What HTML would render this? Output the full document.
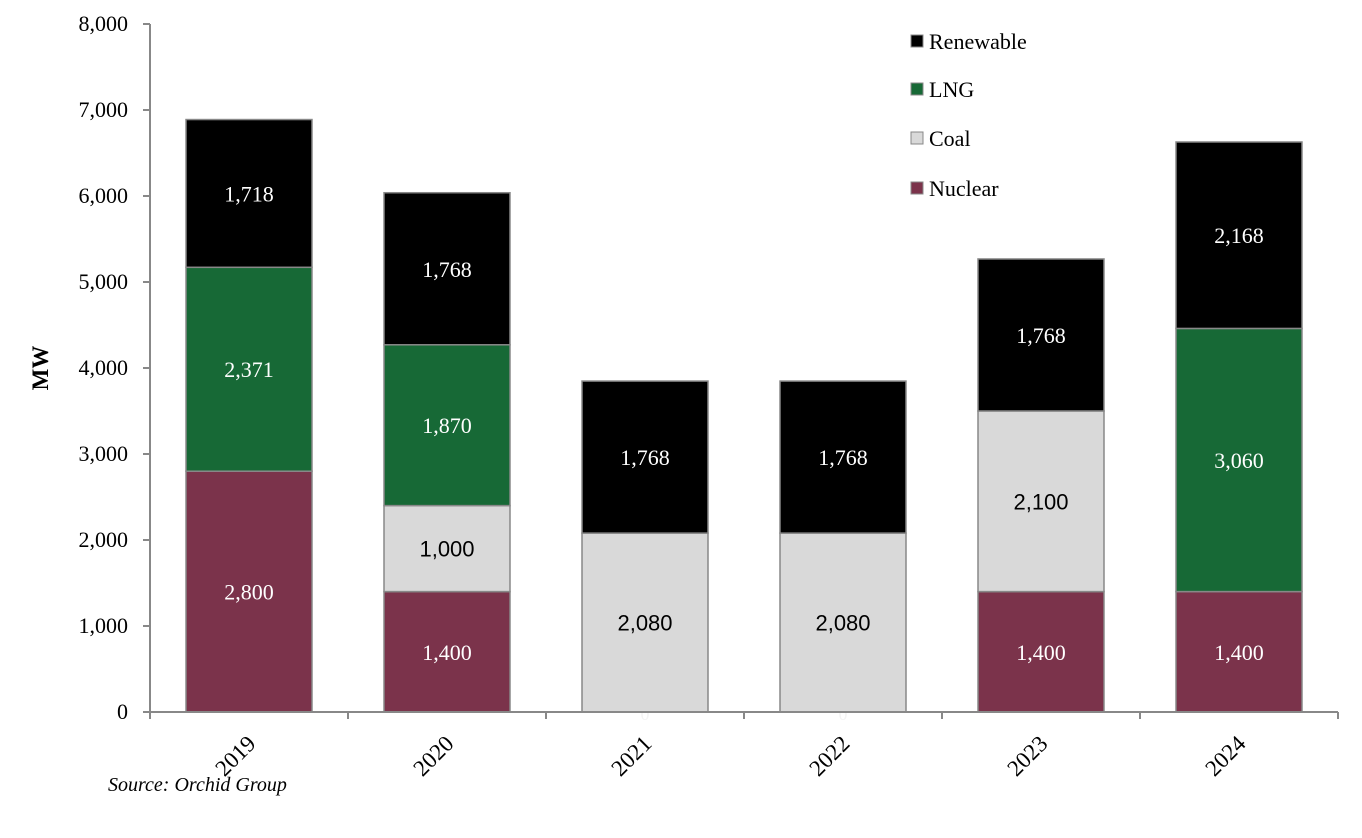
<!DOCTYPE html>
<html><head><meta charset="utf-8"><style>
body{margin:0;background:#fff;}
svg{display:block;}
</style></head><body>
<svg id="chart" width="1362" height="838" xmlns="http://www.w3.org/2000/svg" font-family="'Liberation Serif', serif"></svg>
<script>
const categories = ["2019","2020","2021","2022","2023","2024"];
const nuclear = [2800,1400,0,0,1400,1400];
const coal = [0,1000,2080,2080,2100,0];
const lng = [2371,1870,0,0,0,3060];
const renewable = [1718,1768,1768,1768,1768,2168];
const yTicks = [0,1000,2000,3000,4000,5000,6000,7000,8000];
const yTickLabels = ["0","1,000","2,000","3,000","4,000","5,000","6,000","7,000","8,000"];

const NS="http://www.w3.org/2000/svg";
const svg=document.getElementById('chart');
const x0=150, x1=1338, yBase=712, yTop=24, yMax=8000;
const bw=(x1-x0)/categories.length, barW=126;
const y=v=>yBase-(v/yMax)*(yBase-yTop);
const xc=i=>x0+bw*(i+0.5);
function mk(tag,attrs,parent){const e=document.createElementNS(NS,tag);for(const k in attrs)e.setAttribute(k,attrs[k]);(parent||svg).appendChild(e);return e;}
const fmt=v=>v.toLocaleString('en-US');

// y axis
const yAxis=mk('g',{});


mk('line',{x1:x0,y1:yTop,x2:x0,y2:yBase,stroke:'#888','stroke-width':2},yAxis);
yTicks.forEach((t,i)=>{
  mk('line',{x1:x0-7,y1:y(t),x2:x0,y2:y(t),stroke:'#888','stroke-width':2},yAxis);
  const tx=mk('text',{x:x0-22,y:y(t)+7,'text-anchor':'end','font-size':22,fill:'#000'},yAxis);
  
  
  tx.textContent=yTickLabels[i];
});
const yt=mk('text',{x:48,y:368,'text-anchor':'middle','font-size':23,'font-weight':'bold',transform:'rotate(-90 48 368)'});


yt.textContent='MW';

// bars
const series=[
  {name:'nuclear',vals:nuclear,fill:'#7B334B',txt:'#fff',font:"'Liberation Serif', serif"},
  {name:'coal',vals:coal,fill:'#D9D9D9',txt:'#000',font:"'Liberation Sans', sans-serif"},
  {name:'lng',vals:lng,fill:'#176936',txt:'#fff',font:"'Liberation Serif', serif"},
  {name:'renewable',vals:renewable,fill:'#000',txt:'#fff',font:"'Liberation Serif', serif"}
];
categories.forEach((c,i)=>{
  let acc=0;
  series.forEach(s=>{
    const v=s.vals[i];
    if(v>0){
      const r=mk('rect',{x:xc(i)-barW/2,y:y(acc+v),width:barW,height:y(acc)-y(acc+v),fill:s.fill,stroke:'#888','stroke-width':1.5});
      
      
      const t=mk('text',{x:xc(i),y:(y(acc)+y(acc+v))/2+8,'text-anchor':'middle','font-size':22,fill:s.txt,'font-family':s.font});
      
      
      t.textContent=fmt(v);
    } else if(s.name==='nuclear'){
      const t=mk('text',{x:xc(i),y:yBase+8,'text-anchor':'middle','font-size':18,fill:'#f4f4f4'});
      
      
      t.textContent='0';
    }
    acc+=v;
  });
});

// x axis
const xAxis=mk('g',{});


mk('line',{x1:x0-7,y1:yBase,x2:x1,y2:yBase,stroke:'#888','stroke-width':2},xAxis);
for(let i=0;i<=categories.length;i++){
  mk('line',{x1:x0+bw*i,y1:yBase,x2:x0+bw*i,y2:yBase+7,stroke:'#888','stroke-width':2},xAxis);
}
categories.forEach((c,i)=>{
  const cx=xc(i)+8, cy=745;
  const t=mk('text',{x:cx,y:cy,'text-anchor':'end','font-size':23,transform:`rotate(-45 ${cx} ${cy})`},xAxis);
  
  
  t.textContent=c;
});

// legend
const legend=mk('g',{});


[['Renewable','#000',41],['LNG','#176936',89],['Coal','#D9D9D9',138],['Nuclear','#7B334B',188]].forEach(([n,f,ly])=>{
  const g=mk('g',{},legend);
  
  
  mk('rect',{x:911,y:ly-6,width:12,height:12,fill:f,stroke:'#888','stroke-width':1},g);
  const t=mk('text',{x:929,y:ly+8,'font-size':22},g);
  t.textContent=n;
});

const src=mk('text',{x:108,y:791,'font-size':20,'font-style':'italic'});


src.textContent='Source: Orchid Group';
</script>
</body></html>
